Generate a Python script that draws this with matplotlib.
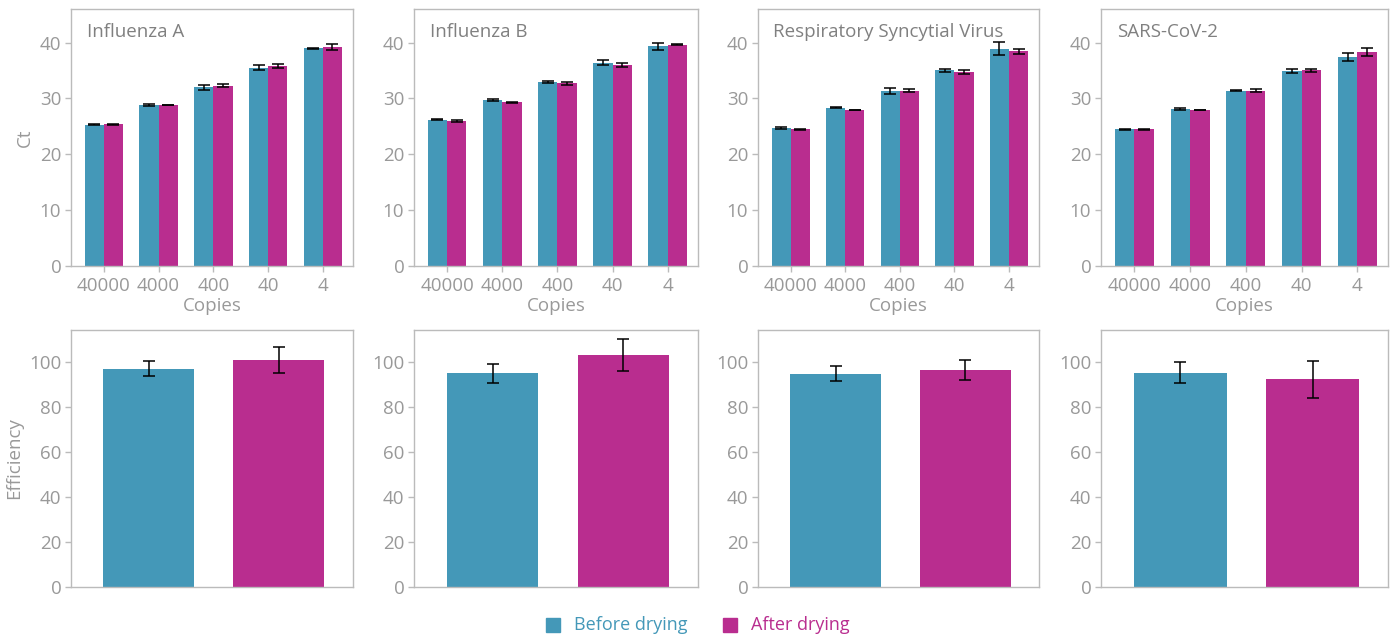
import matplotlib
matplotlib.use("Agg")
import matplotlib.pyplot as plt
import numpy as np

plt.rcParams['font.family'] = ['Open Sans', 'DejaVu Sans']

viruses = ["Influenza A", "Influenza B", "Respiratory Syncytial Virus", "SARS-CoV-2"]
copies = ["40000", "4000", "400", "40", "4"]

# Ct values per dilution (before / after drying) with standard deviations
ct_before = {
    "Influenza A": [25.3, 28.8, 32.0, 35.5, 39.0],
    "Influenza B": [26.2, 29.7, 32.9, 36.4, 39.3],
    "Respiratory Syncytial Virus": [24.7, 28.3, 31.3, 35.0, 38.9],
    "SARS-CoV-2": [24.5, 28.1, 31.4, 34.9, 37.4],
}
ct_before_sd = {
    "Influenza A": [0.1, 0.15, 0.45, 0.5, 0.1],
    "Influenza B": [0.1, 0.2, 0.15, 0.4, 0.7],
    "Respiratory Syncytial Virus": [0.1, 0.1, 0.5, 0.3, 1.2],
    "SARS-CoV-2": [0.1, 0.1, 0.05, 0.4, 0.7],
}
ct_after = {
    "Influenza A": [25.4, 28.8, 32.3, 35.8, 39.2],
    "Influenza B": [25.9, 29.3, 32.7, 36.0, 39.6],
    "Respiratory Syncytial Virus": [24.5, 27.9, 31.4, 34.7, 38.4],
    "SARS-CoV-2": [24.5, 27.9, 31.4, 35.0, 38.3],
}
ct_after_sd = {
    "Influenza A": [0.1, 0.05, 0.25, 0.3, 0.45],
    "Influenza B": [0.15, 0.05, 0.3, 0.3, 0.1],
    "Respiratory Syncytial Virus": [0.1, 0.05, 0.3, 0.3, 0.5],
    "SARS-CoV-2": [0.1, 0.05, 0.2, 0.25, 0.7],
}

# PCR efficiency (%) before / after drying
eff_before = [96.9, 94.8, 94.6, 95.1]
eff_before_sd = [3.3, 4.3, 3.3, 4.5]
eff_after = [100.7, 103.1, 96.3, 92.1]
eff_after_sd = [5.6, 7.1, 4.5, 8.2]

BLUE = "#4498b8"
MAGENTA = "#b92d8f"
GREY_TEXT = "#999999"
SPINE = "#bbbbbb"

W, H = 1395, 637
fig = plt.figure(figsize=(W / 100, H / 100), dpi=100)

col_px = [(71, 353), (414, 698), (758, 1039), (1101, 1388)]
top_px = (9, 266)
bot_px = (330, 587)

TICK_FS = 13.5


def make_ax(xr, yr):
    return fig.add_axes([xr[0] / W, 1 - yr[1] / H, (xr[1] - xr[0]) / W, (yr[1] - yr[0]) / H])


def style(ax):
    for s in ax.spines.values():
        s.set_color(SPINE)
        s.set_linewidth(1.0)
    ax.tick_params(colors=SPINE, labelcolor=GREY_TEXT, labelsize=TICK_FS, length=4, width=1.0, pad=3)


err_kw = dict(ecolor="black", elinewidth=1.1, capthick=1.1)
bw = 0.35
x = np.arange(len(copies))

for i, v in enumerate(viruses):
    ax = make_ax(col_px[i], top_px)
    ax.bar(x - bw / 2, ct_before[v], bw, color=BLUE, yerr=ct_before_sd[v], capsize=4,
           error_kw=err_kw, zorder=2)
    ax.bar(x + bw / 2, ct_after[v], bw, color=MAGENTA, yerr=ct_after_sd[v], capsize=4,
           error_kw=err_kw, zorder=2)
    ax.set_xlim(-0.6, 4.55)
    ax.set_ylim(0, 46)
    ax.set_yticks([0, 10, 20, 30, 40])
    ax.set_xticks(x)
    ax.set_xticklabels(copies)
    style(ax)
    ax.tick_params(axis="x", pad=4)
    ax.set_xlabel("Copies", color=GREY_TEXT, fontsize=TICK_FS, labelpad=1)
    if i == 0:
        ax.set_ylabel("Ct", color=GREY_TEXT, fontsize=TICK_FS, labelpad=4)
    ax.text(0.055, 0.945, v, transform=ax.transAxes, ha="left", va="top",
            color="#808080", fontsize=13.5)

    axb = make_ax(col_px[i], bot_px)
    axb.bar([0], [eff_before[i]], 0.7, color=BLUE, yerr=[eff_before_sd[i]], capsize=4,
            error_kw=err_kw, zorder=2)
    axb.bar([1], [eff_after[i]], 0.7, color=MAGENTA, yerr=[eff_after_sd[i]], capsize=4,
            error_kw=err_kw, zorder=2)
    axb.set_xlim(-0.6, 1.57)
    axb.set_ylim(0, 114)
    axb.set_yticks([0, 20, 40, 60, 80, 100])
    axb.set_xticks([])
    style(axb)
    if i == 0:
        axb.set_ylabel("Efficiency", color=GREY_TEXT, fontsize=TICK_FS, labelpad=4)

# Legend along the bottom edge
fig.patches.append(plt.Rectangle((546 / W, 1 - 632 / H), 14 / W, 14 / H,
                                 transform=fig.transFigure, color=BLUE))
fig.text(574 / W, 1 - 625 / H, "Before drying", color=BLUE, fontsize=13, va="center", ha="left")
fig.patches.append(plt.Rectangle((723 / W, 1 - 632 / H), 14 / W, 14 / H,
                                 transform=fig.transFigure, color=MAGENTA))
fig.text(751 / W, 1 - 625 / H, "After drying", color=MAGENTA, fontsize=13, va="center", ha="left")

fig.savefig("out.png", dpi=100, facecolor="white")
